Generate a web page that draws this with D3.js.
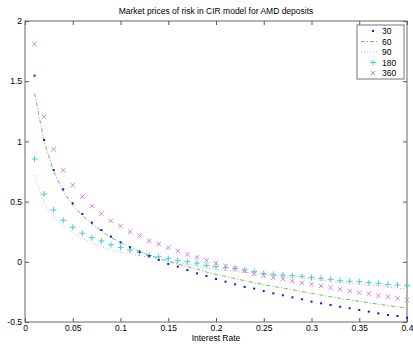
<!DOCTYPE html>
<html>
<head>
<meta charset="utf-8">
<script src="https://cdn.jsdelivr.net/npm/d3@7"></script>
<style>
  body { margin: 0; background: #fff; }
  text { font-family: "Liberation Sans", Arial, sans-serif; }
</style>
</head>
<body>
<script>
// interest rates on the x axis
var rates = [0.01,0.02,0.03,0.04,0.05,0.06,0.07,0.08,0.09,0.10,
             0.11,0.12,0.13,0.14,0.15,0.16,0.17,0.18,0.19,0.20,
             0.21,0.22,0.23,0.24,0.25,0.26,0.27,0.28,0.29,0.30,
             0.31,0.32,0.33,0.34,0.35,0.36,0.37,0.38,0.39,0.40];

// market price of risk per maturity (days)
var s30 = [1.546,1.012,0.762,0.602,0.486,0.397,0.325,0.264,0.209,0.162,
           0.12,0.084,0.048,0.015,-0.018,-0.04,-0.068,-0.096,-0.118,-0.143,
           -0.165,-0.187,-0.209,-0.223,-0.243,-0.262,-0.278,-0.295,-0.311,-0.331,
           -0.345,-0.359,-0.373,-0.386,-0.4,-0.414,-0.428,-0.442,-0.45,-0.464];
var s60 = [1.40,1.0,0.75,0.585,0.47,0.385,0.315,0.255,0.20,0.16,
           0.12,0.085,0.055,0.028,0.005,-0.02,-0.04,-0.06,-0.085,-0.104,
           -0.122,-0.14,-0.157,-0.174,-0.19,-0.204,-0.218,-0.232,-0.247,-0.262,
           -0.277,-0.29,-0.303,-0.316,-0.328,-0.34,-0.352,-0.363,-0.375,-0.386];
var s90 = [0.72,0.486,0.375,0.30,0.242,0.195,0.155,0.125,0.10,0.08,
           0.065,0.05,0.036,0.022,0.008,-0.006,-0.02,-0.034,-0.048,-0.062,
           -0.071,-0.08,-0.088,-0.096,-0.104,-0.112,-0.12,-0.128,-0.136,-0.145,
           -0.153,-0.161,-0.169,-0.177,-0.185,-0.194,-0.202,-0.21,-0.219,-0.228];
var s180 = [0.854,0.563,0.43,0.345,0.287,0.237,0.2,0.173,0.142,0.12,
            0.098,0.076,0.052,0.042,0.026,0.012,0.0,-0.01,-0.03,-0.04,
            -0.049,-0.054,-0.068,-0.082,-0.096,-0.104,-0.11,-0.115,-0.121,-0.132,
            -0.137,-0.145,-0.157,-0.162,-0.165,-0.174,-0.179,-0.187,-0.193,-0.198];
var s360 = [1.81,1.205,0.934,0.76,0.636,0.541,0.463,0.4,0.341,0.297,
            0.25,0.217,0.175,0.148,0.117,0.09,0.062,0.037,0.012,-0.012,
            -0.035,-0.054,-0.074,-0.1,-0.115,-0.132,-0.143,-0.159,-0.174,-0.185,
            -0.201,-0.215,-0.228,-0.243,-0.256,-0.264,-0.282,-0.29,-0.303,-0.317];

var seriesNames = ['30', '60', '90', '180', '360'];
var xTicks = [0, 0.05, 0.1, 0.15, 0.2, 0.25, 0.3, 0.35, 0.4];
var yTicks = [-0.5, 0, 0.5, 1, 1.5, 2];

var W = 413, H = 344;
var margin = {top: 21, right: 6, bottom: 22, left: 25};

var svg = d3.select('body').append('svg')
  .attr('width', W).attr('height', H);

var x = d3.scaleLinear().domain([0, 0.4]).range([margin.left, W - margin.right]);
var y = d3.scaleLinear().domain([-0.5, 2]).range([H - margin.bottom, margin.top]);

var fmt = function(d) { return String(d); };

// axes with inward ticks on all four sides (matlab style)
svg.append('g').attr('class', 'ax')
  .attr('transform', 'translate(0,' + y(-0.5) + ')')
  .call(d3.axisBottom(x).tickValues(xTicks).tickFormat(fmt).tickSizeInner(-4).tickSizeOuter(0).tickPadding(3));
svg.append('g').attr('class', 'ax')
  .attr('transform', 'translate(0,' + y(2) + ')')
  .call(d3.axisTop(x).tickValues(xTicks).tickFormat('').tickSizeInner(-4).tickSizeOuter(0));
svg.append('g').attr('class', 'ax')
  .attr('transform', 'translate(' + x(0) + ',0)')
  .call(d3.axisLeft(y).tickValues(yTicks).tickFormat(fmt).tickSizeInner(-4).tickSizeOuter(0).tickPadding(3));
svg.append('g').attr('class', 'ax')
  .attr('transform', 'translate(' + x(0.4) + ',0)')
  .call(d3.axisRight(y).tickValues(yTicks).tickFormat('').tickSizeInner(-4).tickSizeOuter(0));

svg.selectAll('.ax .domain').remove();
svg.selectAll('.ax line').attr('stroke', '#555');
svg.selectAll('.ax text').attr('fill', '#000').style('font-size', '8.5px');

svg.append('rect')
  .attr('x', x(0)).attr('y', y(2))
  .attr('width', x(0.4) - x(0)).attr('height', y(-0.5) - y(2))
  .attr('fill', 'none').attr('stroke', '#666').attr('stroke-width', 1);

// title and x label
svg.append('text')
  .attr('x', (x(0) + x(0.4)) / 2).attr('y', 14)
  .attr('text-anchor', 'middle').style('font-size', '8.5px')
  .text('Market prices of risk in CIR model for AMD deposits');
svg.append('text')
  .attr('x', (x(0) + x(0.4)) / 2).attr('y', 341)
  .attr('text-anchor', 'middle').style('font-size', '8.5px')
  .text('Interest Rate');

var plot = svg.append('g');

function pts(vals) {
  return rates.map(function(r, i) { return [r, vals[i]]; });
}

var line = d3.line()
  .x(function(d) { return x(d[0]); })
  .y(function(d) { return y(d[1]); });

// 90: dotted line
plot.append('path')
  .attr('d', line(pts(s90)))
  .attr('fill', 'none').attr('stroke', '#f5a3a3')
  .attr('stroke-width', 1).attr('stroke-dasharray', '1,2');

// 60: dash-dot line
plot.append('path')
  .attr('d', line(pts(s60)))
  .attr('fill', 'none').attr('stroke', '#6dbb6d')
  .attr('stroke-width', 1).attr('stroke-dasharray', '4,2,1,2');

// 180: plus markers
plot.selectAll('.plus').data(pts(s180)).enter().append('path')
  .attr('class', 'plus')
  .attr('d', function(d) {
    var cx = x(d[0]), cy = y(d[1]);
    return 'M' + (cx - 3) + ',' + cy + 'H' + (cx + 3) + 'M' + cx + ',' + (cy - 3) + 'V' + (cy + 3);
  })
  .attr('stroke', '#3fd0d0').attr('stroke-width', 1).attr('fill', 'none');

// 360: x markers
plot.selectAll('.cross').data(pts(s360)).enter().append('path')
  .attr('class', 'cross')
  .attr('d', function(d) {
    var cx = x(d[0]), cy = y(d[1]);
    return 'M' + (cx - 2.2) + ',' + (cy - 2.2) + 'L' + (cx + 2.2) + ',' + (cy + 2.2) +
           'M' + (cx - 2.2) + ',' + (cy + 2.2) + 'L' + (cx + 2.2) + ',' + (cy - 2.2);
  })
  .attr('stroke', '#de7ade').attr('stroke-width', 1).attr('fill', 'none');

// 30: point markers
plot.selectAll('.dot').data(pts(s30)).enter().append('rect')
  .attr('class', 'dot')
  .attr('x', function(d) { return x(d[0]) - 1; })
  .attr('y', function(d) { return y(d[1]) - 1; })
  .attr('width', 2).attr('height', 2)
  .attr('fill', '#1010ff');

// legend
var lg = svg.append('g').attr('transform', 'translate(357,25)');
lg.append('rect')
  .attr('width', 47).attr('height', 54)
  .attr('fill', '#fff').attr('stroke', '#777');

var rowY = [6, 16.5, 27, 37.5, 48];
seriesNames.forEach(function(name, i) {
  var cy = rowY[i];
  var g = lg.append('g');
  if (i === 0) {
    g.append('rect').attr('x', 15).attr('y', cy - 1).attr('width', 2).attr('height', 2).attr('fill', '#1010ff');
  } else if (i === 1) {
    g.append('line').attr('x1', 4).attr('x2', 20).attr('y1', cy).attr('y2', cy)
      .attr('stroke', '#6dbb6d').attr('stroke-dasharray', '4,2,1,2');
  } else if (i === 2) {
    g.append('line').attr('x1', 4).attr('x2', 20).attr('y1', cy).attr('y2', cy)
      .attr('stroke', '#f5a3a3').attr('stroke-dasharray', '1,2');
  } else if (i === 3) {
    g.append('path').attr('d', 'M13,' + cy + 'H19M16,' + (cy - 3) + 'V' + (cy + 3))
      .attr('stroke', '#3fd0d0').attr('fill', 'none');
  } else {
    g.append('path').attr('d', 'M13.8,' + (cy - 2.2) + 'L18.2,' + (cy + 2.2) + 'M13.8,' + (cy + 2.2) + 'L18.2,' + (cy - 2.2))
      .attr('stroke', '#de7ade').attr('fill', 'none');
  }
  g.append('text').attr('x', 25).attr('y', cy + 3)
    .style('font-size', '8.5px').text(name);
});
</script>
</body>
</html>
